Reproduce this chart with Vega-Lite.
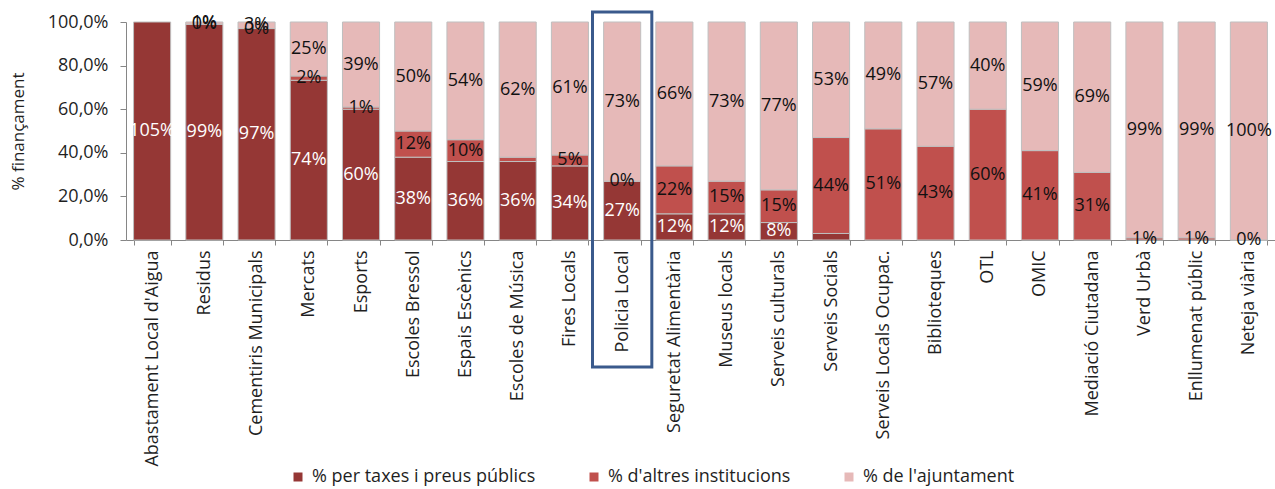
{
  "$schema": "https://vega.github.io/schema/vega-lite/v6.json",
  "width": 1149,
  "height": 218,
  "autosize": {"type": "none"},
  "padding": {"left": 126, "top": 22, "right": 0, "bottom": 249},
  "background": "white",
  "config": {
    "locale": {"number": {"decimal": ",", "thousands": ".", "grouping": [3], "currency": ["", " €"]}},
    "font": "Open Sans",
    "view": {"stroke": null},
    "axis": {"labelFont": "Open Sans", "titleFont": "Open Sans", "labelColor": "#1f1f1f", "titleColor": "#1f1f1f", "domainColor": "#868686", "tickColor": "#868686", "grid": false}
  },
  "datasets": {
    "fin": [
      {"cat": "Abastament Local d'Aigua", "serie": "% per taxes i preus públics", "n": 1, "val": 1.05},
      {"cat": "Residus", "serie": "% per taxes i preus públics", "n": 1, "val": 0.99},
      {"cat": "Residus", "serie": "% d'altres institucions", "n": 2, "val": 0.0},
      {"cat": "Residus", "serie": "% de l'ajuntament", "n": 3, "val": 0.01},
      {"cat": "Cementiris Municipals", "serie": "% per taxes i preus públics", "n": 1, "val": 0.97},
      {"cat": "Cementiris Municipals", "serie": "% d'altres institucions", "n": 2, "val": 0.0},
      {"cat": "Cementiris Municipals", "serie": "% de l'ajuntament", "n": 3, "val": 0.03},
      {"cat": "Mercats", "serie": "% per taxes i preus públics", "n": 1, "val": 0.74},
      {"cat": "Mercats", "serie": "% d'altres institucions", "n": 2, "val": 0.02},
      {"cat": "Mercats", "serie": "% de l'ajuntament", "n": 3, "val": 0.25},
      {"cat": "Esports", "serie": "% per taxes i preus públics", "n": 1, "val": 0.60},
      {"cat": "Esports", "serie": "% d'altres institucions", "n": 2, "val": 0.01},
      {"cat": "Esports", "serie": "% de l'ajuntament", "n": 3, "val": 0.39},
      {"cat": "Escoles Bressol", "serie": "% per taxes i preus públics", "n": 1, "val": 0.38},
      {"cat": "Escoles Bressol", "serie": "% d'altres institucions", "n": 2, "val": 0.12},
      {"cat": "Escoles Bressol", "serie": "% de l'ajuntament", "n": 3, "val": 0.50},
      {"cat": "Espais Escènics", "serie": "% per taxes i preus públics", "n": 1, "val": 0.36},
      {"cat": "Espais Escènics", "serie": "% d'altres institucions", "n": 2, "val": 0.10},
      {"cat": "Espais Escènics", "serie": "% de l'ajuntament", "n": 3, "val": 0.54},
      {"cat": "Escoles de Música", "serie": "% per taxes i preus públics", "n": 1, "val": 0.36},
      {"cat": "Escoles de Música", "serie": "% d'altres institucions", "n": 2, "val": 0.02, "hide": true},
      {"cat": "Escoles de Música", "serie": "% de l'ajuntament", "n": 3, "val": 0.62},
      {"cat": "Fires Locals", "serie": "% per taxes i preus públics", "n": 1, "val": 0.34},
      {"cat": "Fires Locals", "serie": "% d'altres institucions", "n": 2, "val": 0.05},
      {"cat": "Fires Locals", "serie": "% de l'ajuntament", "n": 3, "val": 0.61},
      {"cat": "Policia Local", "serie": "% per taxes i preus públics", "n": 1, "val": 0.27},
      {"cat": "Policia Local", "serie": "% d'altres institucions", "n": 2, "val": 0.0},
      {"cat": "Policia Local", "serie": "% de l'ajuntament", "n": 3, "val": 0.73},
      {"cat": "Seguretat Alimentària", "serie": "% per taxes i preus públics", "n": 1, "val": 0.12},
      {"cat": "Seguretat Alimentària", "serie": "% d'altres institucions", "n": 2, "val": 0.22},
      {"cat": "Seguretat Alimentària", "serie": "% de l'ajuntament", "n": 3, "val": 0.66},
      {"cat": "Museus locals", "serie": "% per taxes i preus públics", "n": 1, "val": 0.12},
      {"cat": "Museus locals", "serie": "% d'altres institucions", "n": 2, "val": 0.15},
      {"cat": "Museus locals", "serie": "% de l'ajuntament", "n": 3, "val": 0.73},
      {"cat": "Serveis culturals", "serie": "% per taxes i preus públics", "n": 1, "val": 0.08},
      {"cat": "Serveis culturals", "serie": "% d'altres institucions", "n": 2, "val": 0.15},
      {"cat": "Serveis culturals", "serie": "% de l'ajuntament", "n": 3, "val": 0.77},
      {"cat": "Serveis Socials", "serie": "% per taxes i preus públics", "n": 1, "val": 0.03, "hide": true},
      {"cat": "Serveis Socials", "serie": "% d'altres institucions", "n": 2, "val": 0.44},
      {"cat": "Serveis Socials", "serie": "% de l'ajuntament", "n": 3, "val": 0.53},
      {"cat": "Serveis Locals Ocupac.", "serie": "% d'altres institucions", "n": 2, "val": 0.51},
      {"cat": "Serveis Locals Ocupac.", "serie": "% de l'ajuntament", "n": 3, "val": 0.49},
      {"cat": "Biblioteques", "serie": "% d'altres institucions", "n": 2, "val": 0.43},
      {"cat": "Biblioteques", "serie": "% de l'ajuntament", "n": 3, "val": 0.57},
      {"cat": "OTL", "serie": "% d'altres institucions", "n": 2, "val": 0.60},
      {"cat": "OTL", "serie": "% de l'ajuntament", "n": 3, "val": 0.40},
      {"cat": "OMIC", "serie": "% d'altres institucions", "n": 2, "val": 0.41},
      {"cat": "OMIC", "serie": "% de l'ajuntament", "n": 3, "val": 0.59},
      {"cat": "Mediació Ciutadana", "serie": "% d'altres institucions", "n": 2, "val": 0.31},
      {"cat": "Mediació Ciutadana", "serie": "% de l'ajuntament", "n": 3, "val": 0.69},
      {"cat": "Verd Urbà", "serie": "% d'altres institucions", "n": 2, "val": 0.01},
      {"cat": "Verd Urbà", "serie": "% de l'ajuntament", "n": 3, "val": 0.99},
      {"cat": "Enllumenat públic", "serie": "% d'altres institucions", "n": 2, "val": 0.01},
      {"cat": "Enllumenat públic", "serie": "% de l'ajuntament", "n": 3, "val": 0.99},
      {"cat": "Neteja viària", "serie": "% d'altres institucions", "n": 2, "val": 0.0},
      {"cat": "Neteja viària", "serie": "% de l'ajuntament", "n": 3, "val": 1.0}
    ],
    "box": [
      {"cat": "Policia Local", "top": 1.046, "bottom": -0.583}
    ]
  },
  "layer": [
    {
      "data": {"name": "fin"},
      "mark": {"type": "bar", "stroke": "#BFBFBF", "strokeWidth": 1},
      "encoding": {
        "x": {
          "field": "cat", "type": "nominal", "sort": null, "title": null,
          "scale": {"paddingInner": 0.29, "paddingOuter": 0.145},
          "axis": {"labelAngle": -90, "labelFontSize": 18, "labelPadding": 5, "tickBand": "extent", "tickSize": 5, "labelLimit": 300}
        },
        "y": {
          "aggregate": "sum", "field": "val", "type": "quantitative", "stack": "normalize",
          "title": "% finançament",
          "scale": {"domain": [0, 1], "nice": false},
          "axis": {"format": ".1%", "values": [0, 0.2, 0.4, 0.6, 0.8, 1], "labelFontSize": 18, "titleFontSize": 17, "titleFontWeight": "normal", "labelPadding": 12, "tickSize": 6, "titlePadding": 20}
        },
        "color": {
          "field": "serie", "type": "nominal", "title": null,
          "scale": {"domain": ["% per taxes i preus públics", "% d'altres institucions", "% de l'ajuntament"], "range": ["#953735", "#C0504D", "#E6B9B8"]},
          "legend": {"orient": "none", "legendX": 163, "legendY": 446, "padding": 0, "direction": "horizontal", "symbolType": "square", "symbolSize": 81, "symbolStrokeWidth": 0, "labelFontSize": 18, "labelLimit": 400, "labelColor": "#1f1f1f", "columnPadding": 49, "labelOffset": 5}
        },
        "order": {"field": "n", "type": "quantitative"}
      }
    },
    {
      "data": {"name": "fin"},
      "transform": [
        {"stack": "val", "groupby": ["cat"], "sort": [{"field": "n"}], "offset": "normalize", "as": ["y0", "y1"]},
        {"calculate": "(datum.y0 + datum.y1) / 2", "as": "mid"},
        {"filter": "datum.n == 1 && !datum.hide"}
      ],
      "mark": {"type": "text", "fontSize": 18, "color": "white", "font": "Open Sans"},
      "encoding": {
        "x": {"field": "cat", "type": "nominal", "sort": null},
        "y": {"field": "mid", "type": "quantitative", "title": "% finançament", "axis": {"format": ".1%", "values": [0, 0.2, 0.4, 0.6, 0.8, 1], "labelFontSize": 18, "titleFontSize": 17, "titleFontWeight": "normal", "labelPadding": 12, "tickSize": 6, "titlePadding": 20}},
        "text": {"field": "val", "type": "quantitative", "format": ".0%"}
      }
    },
    {
      "data": {"name": "fin"},
      "transform": [
        {"stack": "val", "groupby": ["cat"], "sort": [{"field": "n"}], "offset": "normalize", "as": ["y0", "y1"]},
        {"calculate": "(datum.y0 + datum.y1) / 2", "as": "mid"},
        {"filter": "datum.n != 1 && !datum.hide"}
      ],
      "mark": {"type": "text", "fontSize": 18, "color": "#111111", "font": "Open Sans"},
      "encoding": {
        "x": {"field": "cat", "type": "nominal", "sort": null},
        "y": {"field": "mid", "type": "quantitative", "title": "% finançament", "axis": {"format": ".1%", "values": [0, 0.2, 0.4, 0.6, 0.8, 1], "labelFontSize": 18, "titleFontSize": 17, "titleFontWeight": "normal", "labelPadding": 12, "tickSize": 6, "titlePadding": 20}},
        "text": {"field": "val", "type": "quantitative", "format": ".0%"}
      }
    },
    {
      "data": {"name": "box"},
      "mark": {"type": "bar", "fill": "transparent", "stroke": "#3A5A8C", "strokeWidth": 3, "clip": false, "width": {"band": 1.6}},
      "encoding": {
        "x": {"field": "cat", "type": "nominal", "sort": null},
        "y": {"field": "top", "type": "quantitative", "title": "% finançament", "axis": {"format": ".1%", "values": [0, 0.2, 0.4, 0.6, 0.8, 1], "labelFontSize": 18, "titleFontSize": 17, "titleFontWeight": "normal", "labelPadding": 12, "tickSize": 6, "titlePadding": 20}},
        "y2": {"field": "bottom"}
      }
    }
  ]
}
